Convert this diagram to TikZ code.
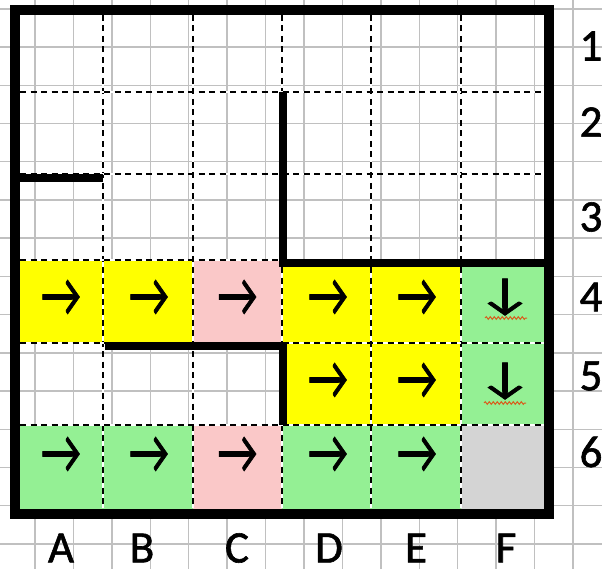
\documentclass[tikz,border=0pt]{standalone}
\usepackage{fontspec}
\setmainfont{Carlito}
\newfontfamily\heavyfont[FakeBold=1.3]{Carlito}
\usetikzlibrary{decorations.pathmorphing}
\definecolor{gridgray}{RGB}{192,192,192}
\definecolor{cyel}{RGB}{255,255,0}
\definecolor{cpink}{RGB}{250,200,200}
\definecolor{cgreen}{RGB}{148,240,148}
\definecolor{cgray}{RGB}{212,212,212}
\definecolor{squig}{RGB}{215,95,30}
\newcommand{\ra}{\scalebox{1.05}[1.5]{→}}
\newcommand{\da}{\scalebox{1.5}[1.05]{↓}}
\begin{document}
\begin{tikzpicture}[x=1pt,y=-1pt,
  bggrid/.style={gridgray, line width=1.4pt},
  celldash/.style={black, line width=2pt, dash pattern=on 6pt off 4.5pt},
  cellgap/.style={white, line width=2pt},
  outerwall/.style={line width=10pt, line join=miter},
  wall/.style={line width=8pt},
  lbl/.style={font=\heavyfont\fontsize{45}{45}\selectfont, inner sep=0pt},
  arr/.style={font=\heavyfont\fontsize{42}{42}\selectfont, inner sep=0pt},
  squiggle/.style={squig, line width=1pt, decorate, decoration={snake, amplitude=1.3pt, segment length=4pt}}]
\useasboundingbox (0,0) rectangle (602,569);
\fill[white] (0,0) rectangle (602,569);
% background spreadsheet grid
\foreach \k in {0,...,14} \draw[bggrid] ({35+38.43*\k},0) -- ++(0,569);
\foreach \k in {0,...,14} \draw[bggrid] (0,{9+38.2*\k}) -- ++(602,0);
% cell fills
\fill[cyel]   (15,260) rectangle (103,343);
\fill[cyel]   (103,260) rectangle (193,343);
\fill[cpink]  (193,260) rectangle (282,343);
\fill[cyel]   (282,260) rectangle (371,343);
\fill[cyel]   (371,260) rectangle (461,343);
\fill[cgreen] (461,260) rectangle (549,343);
\fill[cyel]   (282,343) rectangle (371,425);
\fill[cyel]   (371,343) rectangle (461,425);
\fill[cgreen] (461,343) rectangle (549,425);
\fill[cgreen] (15,425) rectangle (103,513);
\fill[cgreen] (103,425) rectangle (193,513);
\fill[cpink]  (193,425) rectangle (282,513);
\fill[cgreen] (282,425) rectangle (371,513);
\fill[cgreen] (371,425) rectangle (461,513);
\fill[cgray]  (461,425) rectangle (549,513);
% dashed cell lines
\foreach \x in {103,193,282,371,461} {
  \draw[cellgap] (\x,15) -- (\x,508);
  \draw[celldash] (\x,15) -- (\x,508);
}
\foreach \y in {92,174,260,343,425} {
  \draw[cellgap] (20,\y) -- (544,\y);
  \draw[celldash] (20,\y) -- (544,\y);
}
% walls
\draw[wall] (15,178) -- (103,178);
\draw[wall] (283,92) -- (283,263) -- (549,263);
\draw[wall] (105,346) -- (283,346) -- (283,425);
\draw[outerwall] (15,10.5) rectangle (549,513.5);
% arrows
\node[arr] (a4) at (61,298) {\ra};
\node[arr] (b4) at (149,298) {\ra};
\node[arr] (c4) at (237.5,298) {\ra};
\node[arr] (d4) at (328,298) {\ra};
\node[arr] (e4) at (417,298) {\ra};
\node[arr] (f4) at (505,297) {\da};
\node[arr] (d5) at (328,381) {\ra};
\node[arr] (e5) at (417,381) {\ra};
\node[arr] (f5) at (505,381) {\da};
\node[arr] (a6) at (61,455) {\ra};
\node[arr] (b6) at (149,455) {\ra};
\node[arr] (c6) at (237.5,455) {\ra};
\node[arr] (d6) at (328,455) {\ra};
\node[arr] (e6) at (417,455) {\ra};
\coordinate (sq4a) at (485,318);
\coordinate (sq4b) at (527,318);
\coordinate (sq5a) at (484,403);
\coordinate (sq5b) at (526,403);
\draw[squiggle] (sq4a) -- (sq4b);
\draw[squiggle] (sq5a) -- (sq5b);
% labels
\node[lbl] (r1) at (591,46) {1};
\node[lbl] (r2) at (591,122) {2};
\node[lbl] (r3) at (591,217) {3};
\node[lbl] (r4) at (591,297) {4};
\node[lbl] (r5) at (591,376) {5};
\node[lbl] (r6) at (591,452) {6};
\node[lbl] (cA) at (61,548) {A};
\node[lbl] (cB) at (142,548) {B};
\node[lbl] (cC) at (237,548) {C};
\node[lbl] (cD) at (329,548) {D};
\node[lbl] (cE) at (416,548) {E};
\node[lbl] (cF) at (506,548) {F};
\end{tikzpicture}
\end{document}
